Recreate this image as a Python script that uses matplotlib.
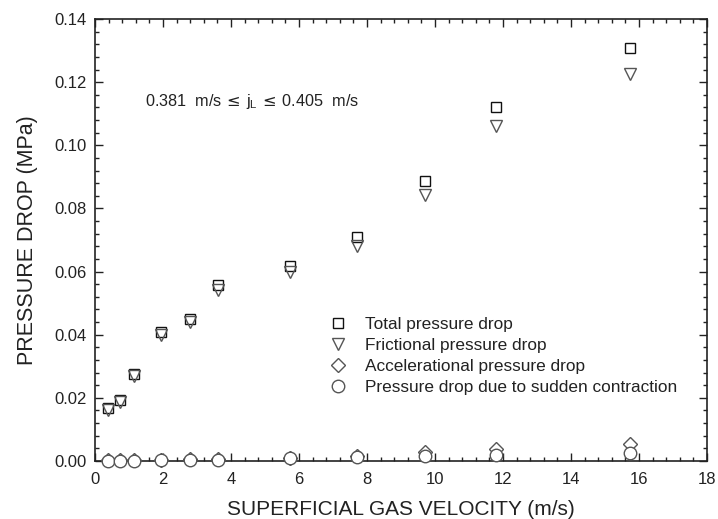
import numpy as np
import matplotlib
matplotlib.use("Agg")
import matplotlib.pyplot as plt
from matplotlib.ticker import MultipleLocator, FormatStrFormatter

plt.rcParams['font.family'] = ['Liberation Sans', 'DejaVu Sans']

# superficial gas velocity (m/s)
jg = [0.38, 0.75, 1.15, 1.95, 2.78, 3.62, 5.75, 7.7, 9.72, 11.78, 15.74]

# pressure drop components (MPa)
dp_total = [0.0168, 0.0193, 0.0277, 0.0409, 0.0451, 0.0557, 0.0617, 0.0710, 0.0888, 0.1122, 0.1307]
dp_fric = [0.0160, 0.0186, 0.0268, 0.0398, 0.0440, 0.0542, 0.0598, 0.0682, 0.0844, 0.1062, 0.1227]
dp_acc = [0.0002, 0.0002, 0.0003, 0.0004, 0.0005, 0.0007, 0.0011, 0.0016, 0.0028, 0.0037, 0.0053]
dp_cont = [0.0001, 0.0001, 0.0001, 0.0002, 0.0003, 0.0004, 0.0008, 0.0013, 0.0016, 0.0019, 0.0026]

fig = plt.figure(figsize=(7.18, 5.19), dpi=100)
ax = fig.add_axes([0.1323, 0.1118, 0.8524, 0.8516])

ax.plot(jg, dp_total, ls='none', marker='s', ms=7.5, mfc='none', mec='#111111', mew=1.0,
        label='Total pressure drop')
ax.plot(jg, dp_fric, ls='none', marker='v', ms=8, mfc='none', mec='#555555', mew=1.0,
        label='Frictional pressure drop')
ax.plot(jg, dp_acc, ls='none', marker='D', ms=7, mfc='white', mec='#555555', mew=1.0,
        label='Accelerational pressure drop', clip_on=False, zorder=3)
ax.plot(jg, dp_cont, ls='none', marker='o', ms=9, mfc='white', mec='#555555', mew=1.0,
        label='Pressure drop due to sudden contraction', clip_on=False, zorder=4)

ax.set_xlim(0, 18)
ax.set_ylim(0, 0.14)
ax.xaxis.set_major_locator(MultipleLocator(2))
ax.xaxis.set_minor_locator(MultipleLocator(0.4))
ax.yaxis.set_major_locator(MultipleLocator(0.02))
ax.yaxis.set_minor_locator(MultipleLocator(0.004))
ax.yaxis.set_major_formatter(FormatStrFormatter('%.2f'))
ax.tick_params(which='both', direction='in', top=True, right=True, labelsize=12,
               colors='#222222', width=1.0)
ax.tick_params(which='major', length=6)
ax.tick_params(which='minor', length=3)
ax.tick_params(axis='x', pad=8)
ax.tick_params(axis='y', pad=6)
for s in ax.spines.values():
    s.set_linewidth(1.2)
    s.set_color('#222222')

ax.set_xlabel('SUPERFICIAL GAS VELOCITY (m/s)', fontsize=15, color='#222222', labelpad=9)
ax.set_ylabel('PRESSURE DROP (MPa)', fontsize=15.5, color='#222222', labelpad=12)

ax.text(1.47, 0.114, r'0.381  m/s$\,\leq\,$j$_\mathregular{L}$$\,\leq\,$0.405  m/s', fontsize=11.7,
        color='#222222', va='center')

ax.legend(loc='upper left', bbox_to_anchor=(0.357, 0.342), frameon=False, fontsize=12.4,
          handletextpad=0.6, labelspacing=0.35, borderaxespad=0, labelcolor='#222222')

fig.savefig('out.png', dpi=100)
